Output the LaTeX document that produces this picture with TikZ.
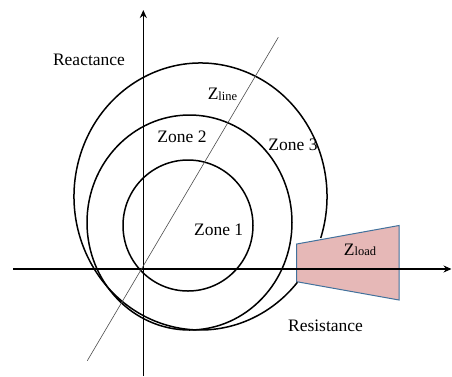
\documentclass[tikz,border=0pt]{standalone}
\usepackage{fontspec}
\setmainfont{Liberation Serif}
\usetikzlibrary{arrows.meta}
\definecolor{loadfill}{RGB}{230,184,183}
\definecolor{loadedge}{RGB}{65,113,156}
\begin{document}
\begin{tikzpicture}[x=1pt,y=-1pt,
  axis/.style={line width=1.6pt,-{Stealth[length=8pt,width=7pt]}},
  zone/.style={line width=1.5pt},
  lbl/.style={font=\fontsize{17.5}{20}\selectfont,inner sep=0pt}]
\useasboundingbox (0,0) rectangle (452,376);
% load region
\draw[fill=loadfill,draw=loadedge,line width=1pt] (296.7,244) -- (399,225.5) -- (399,300) -- (296.7,281.7) -- cycle;
% axes
\coordinate (origin) at (143.3,269);
\coordinate (xs) at (13,269);
\coordinate (xe) at (451.5,269);
\coordinate (ys) at (143.3,376);
\coordinate (ye) at (143.3,10);
\draw[axis] (xs) -- (xe);
\draw[axis] (ys) -- (ye);
% zones
\draw[zone] (188,225.5) ellipse [x radius=65,y radius=65.5];
\draw[zone] (189.5,222.5) ellipse [x radius=102.5,y radius=107.5];
\draw[zone] (200.5,196.5) ++(18.1:126.5 and 133.5) arc[start angle=18.1,end angle=-320,x radius=126.5,y radius=133.5];
% line impedance
\coordinate (la) at (87.3,360.7);
\coordinate (lb) at (278.3,37.3);
\draw[line width=0.6pt,black!70] (la) -- (lb);
% labels
\node[lbl] (react) at (89,60) {Reactance};
\node[lbl] (z1) at (218.7,229.5) {Zone 1};
\node[lbl] (z2) at (182,137) {Zone 2};
\node[lbl] (z3) at (293,145) {Zone 3};
\node[lbl] (zline) at (222.5,94.5) {Z\raisebox{-0.5pt}{\fontsize{12.5}{14}\selectfont line}};
\node[lbl] (zload) at (360,250) {Z\raisebox{-0.5pt}{\fontsize{12.5}{14}\selectfont load}};
\node[lbl] (res) at (325.5,326) {Resistance};
\end{tikzpicture}
\end{document}
